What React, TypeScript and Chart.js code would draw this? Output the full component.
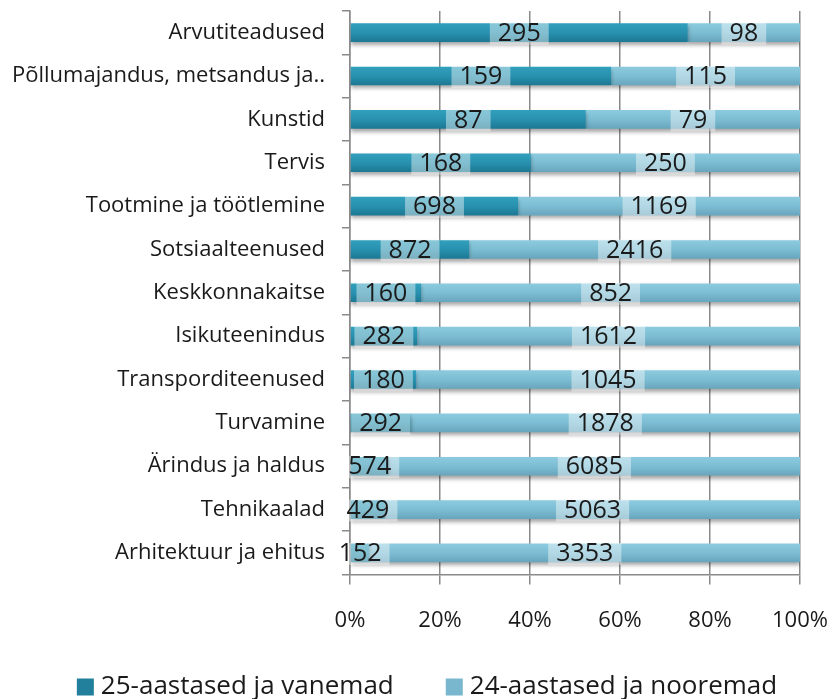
import React, { useEffect, useRef } from "react";
import { Chart, registerables } from "chart.js";

Chart.register(...registerables);

const categories = [
  "Arvutiteadused",
  "Põllumajandus, metsandus ja..",
  "Kunstid",
  "Tervis",
  "Tootmine ja töötlemine",
  "Sotsiaalteenused",
  "Keskkonnakaitse",
  "Isikuteenindus",
  "Transporditeenused",
  "Turvamine",
  "Ärindus ja haldus",
  "Tehnikaalad",
  "Arhitektuur ja ehitus",
];
const older = [295, 159, 87, 168, 698, 872, 160, 282, 180, 292, 574, 429, 152];
const younger = [98, 115, 79, 250, 1169, 2416, 852, 1612, 1045, 1878, 6085, 5063, 3353];
const seriesNames = ["25-aastased ja vanemad", "24-aastased ja nooremad"];
const xTicks = ["0%", "20%", "40%", "60%", "80%", "100%"];

const FONT = "'Open Sans', 'Liberation Sans', sans-serif";
const GRID = "#8a8a8a";
const TEXT = "#1a1a1a";
const baseColors = ["#2690ae", "#7cbdd3"];
const gradStops = [
  ["#31a0bd", "#2891af", "#1c7893"],
  ["#8ccbdf", "#7dbdd3", "#67a5bc"],
];
const legendSwatch = ["#23809c", "#78b7cd"];

const barStyle = {
  id: "barStyle",
  beforeDatasetsDraw(chart: any) {
    const ctx = chart.ctx;
    chart.data.datasets.forEach((_ds: any, di: number) => {
      const meta = chart.getDatasetMeta(di);
      meta.data.forEach((el: any) => {
        const top = el.y - el.height / 2;
        const g = ctx.createLinearGradient(0, top, 0, top + el.height);
        const s = gradStops[di];
        g.addColorStop(0, s[0]);
        g.addColorStop(0.5, s[1]);
        g.addColorStop(1, s[2]);
        el.options = Object.assign(Object.create(Object.getPrototypeOf(el.options)), el.options, {
          backgroundColor: g,
        });
      });
    });
    ctx.save();
    ctx.shadowColor = "rgba(0,0,0,0.35)";
    ctx.shadowBlur = 4;
    ctx.shadowOffsetY = 3;
  },
  afterDatasetsDraw(chart: any) {
    const ctx = chart.ctx;
    ctx.restore();
    ctx.save();
    ctx.font = `25px ${FONT}`;
    ctx.textAlign = "center";
    ctx.textBaseline = "middle";
    chart.data.datasets.forEach((ds: any, di: number) => {
      const meta = chart.getDatasetMeta(di);
      meta.data.forEach((el: any, i: number) => {
        const txt = String(ds.raw[i]);
        const cx = (el.x + el.base) / 2;
        const cy = el.y;
        const w = ctx.measureText(txt).width + 16;
        ctx.fillStyle = "rgba(255,255,255,0.42)";
        ctx.fillRect(cx - w / 2, cy - 10, w, 22);
        ctx.fillStyle = TEXT;
        ctx.fillText(txt, cx, cy + 1);
      });
    });
    ctx.restore();
  },
  afterDraw(chart: any) {
    const ctx = chart.ctx;
    ctx.save();
    ctx.font = `26px ${FONT}`;
    ctx.textBaseline = "middle";
    const box = 17;
    const gapBoxText = 7;
    const gapItems = 52;
    const widths = seriesNames.map((n) => ctx.measureText(n).width);
    const total = widths.reduce((a, w) => a + box + gapBoxText + w, 0) + gapItems;
    let x = (chart.width - total) / 2 + 11;
    const cy = 687;
    seriesNames.forEach((n, i) => {
      ctx.fillStyle = legendSwatch[i];
      ctx.fillRect(x, cy - box / 2, box, box);
      x += box + gapBoxText;
      ctx.fillStyle = TEXT;
      ctx.fillText(n, x, cy);
      x += widths[i] + gapItems;
    });
    ctx.restore();
  },
};

export default function App() {
  const ref = useRef<HTMLCanvasElement>(null);
  useEffect(() => {
    const totals = older.map((v, i) => v + younger[i]);
    const chart = new Chart(ref.current!, {
      type: "bar",
      data: {
        labels: categories,
        datasets: [
          {
            label: seriesNames[0],
            data: older.map((v, i) => (v / totals[i]) * 100),
            raw: older,
            backgroundColor: () => baseColors[0],
            barPercentage: 0.43,
            categoryPercentage: 1,
          } as any,
          {
            label: seriesNames[1],
            data: younger.map((v, i) => (v / totals[i]) * 100),
            raw: younger,
            backgroundColor: () => baseColors[1],
            barPercentage: 0.43,
            categoryPercentage: 1,
          } as any,
        ],
      },
      options: {
        indexAxis: "y",
        animation: false,
        responsive: true,
        maintainAspectRatio: false,
        layout: { padding: { top: 11, right: 32, left: 0, bottom: 42 } },
        scales: {
          x: {
            stacked: true,
            min: 0,
            max: 100,
            afterFit: (scale: any) => {
              scale.paddingLeft = 0;
              scale.paddingRight = 0;
            },
            ticks: {
              stepSize: 20,
              padding: 23,
              color: TEXT,
              font: { family: FONT, size: 22 },
              callback: (v: any) => xTicks[Math.round(Number(v) / 20)],
            },
            grid: { color: GRID, lineWidth: 1.5, tickLength: 10 },
            border: { color: GRID, width: 1.5 },
          },
          y: {
            stacked: true,
            afterFit: (scale: any) => {
              scale.width = 350;
              scale.paddingTop = 0;
              scale.paddingBottom = 0;
            },
            ticks: {
              padding: 17,
              color: TEXT,
              font: { family: FONT, size: 22 },
            },
            grid: { drawOnChartArea: false, color: GRID, lineWidth: 1.5, tickLength: 8, offset: true },
            border: { color: GRID, width: 1.5 },
          },
        },
        plugins: {
          legend: { display: false },
          tooltip: { enabled: false },
        },
      } as any,
      plugins: [barStyle],
    });
    return () => chart.destroy();
  }, []);
  return (
    <div style={{ position: "fixed", left: 0, top: 0, width: 832, height: 699, background: "#fff" }}>
      <canvas ref={ref} />
    </div>
  );
}
